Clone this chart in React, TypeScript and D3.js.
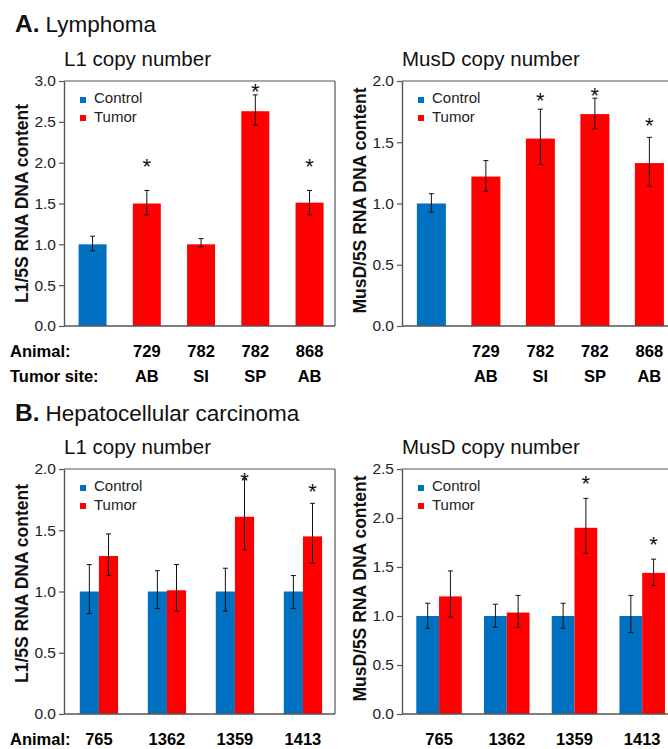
import React, { useEffect, useRef } from "react";
import * as d3 from "d3";

const FONT = "'Liberation Sans', Arial, Helvetica, sans-serif";
const BLUE = "#0070c0";
const RED = "#ff0000";
const AXIS = "#555";

// A. Lymphoma (first bar is the control)
const lymphGroups = ["Control", "Tumor", "Tumor", "Tumor", "Tumor"];
const lymphAnimals = ["", "729", "782", "782", "868"];
const lymphSites = ["", "AB", "SI", "SP", "AB"];

const lymphL1 = [1.0, 1.5, 1.0, 2.63, 1.51];
const lymphL1Lo = [0.92, 1.36, 0.97, 2.46, 1.36];
const lymphL1Hi = [1.1, 1.66, 1.07, 2.83, 1.66];
const lymphL1Star = [null, 2.02, null, 2.93, 2.02];
const lymphL1Ticks = [0, 0.5, 1.0, 1.5, 2.0, 2.5, 3.0];

const lymphMusD = [1.0, 1.22, 1.53, 1.73, 1.33];
const lymphMusDLo = [0.93, 1.1, 1.32, 1.61, 1.14];
const lymphMusDHi = [1.08, 1.35, 1.77, 1.86, 1.54];
const lymphMusDStar = [null, null, 1.88, 1.92, 1.68];
const lymphMusDTicks = [0, 0.5, 1.0, 1.5, 2.0];

// B. Hepatocellular carcinoma
const hccAnimals = ["765", "1362", "1359", "1413"];
const hccSeries = ["Control", "Tumor"];

const hccL1Control = [1.0, 1.0, 1.0, 1.0];
const hccL1ControlLo = [0.82, 0.86, 0.84, 0.86];
const hccL1ControlHi = [1.22, 1.17, 1.19, 1.13];
const hccL1Tumor = [1.29, 1.01, 1.61, 1.45];
const hccL1TumorLo = [1.13, 0.84, 1.34, 1.23];
const hccL1TumorHi = [1.47, 1.22, 1.92, 1.72];
const hccL1Star = [null, null, 1.95, 1.86];
const hccL1Ticks = [0, 0.5, 1.0, 1.5, 2.0];

const hccMusDControl = [1.0, 1.0, 1.0, 1.0];
const hccMusDControlLo = [0.875, 0.885, 0.875, 0.83];
const hccMusDControlHi = [1.13, 1.12, 1.13, 1.21];
const hccMusDTumor = [1.2, 1.035, 1.9, 1.44];
const hccMusDTumorLo = [0.99, 0.885, 1.64, 1.31];
const hccMusDTumorHi = [1.46, 1.21, 2.2, 1.58];
const hccMusDStar = [null, null, 2.4, 1.78];
const hccMusDTicks = [0, 0.5, 1.0, 1.5, 2.0, 2.5];

const PANEL_W = 271;

function YAxis({ scale, x, ticks }) {
  const ref = useRef(null);
  useEffect(() => {
    const g = d3.select(ref.current);
    g.call(
      d3
        .axisLeft(scale)
        .tickValues(ticks)
        .tickFormat(d3.format(".1f"))
        .tickSize(5)
        .tickSizeOuter(0)
        .tickPadding(3)
    );
    g.attr("font-family", FONT).attr("font-size", 15.5);
    g.selectAll("path").attr("stroke", AXIS).attr("stroke-width", 1.4);
    g.selectAll("line").attr("stroke", AXIS).attr("stroke-width", 1.2);
    g.selectAll("text").attr("fill", "#222");
  }, [scale, ticks]);
  return <g ref={ref} transform={`translate(${x},0)`} />;
}

function Frame({ left, top, bottom, title, yLabel, labelDy }) {
  const right = left + PANEL_W;
  return (
    <g>
      <line x1={left} x2={right} y1={top} y2={top} stroke={AXIS} strokeWidth={1.2} />
      <line x1={right} x2={right} y1={top} y2={bottom} stroke={AXIS} strokeWidth={1.2} />
      <line x1={left} x2={right} y1={bottom} y2={bottom} stroke={AXIS} strokeWidth={1.4} />
      <text x={left} y={top - 15} fontSize={20.5} fontFamily={FONT} fill="#111">
        {title}
      </text>
      <text
        transform={`translate(${left - 36},${(top + bottom) / 2 + labelDy}) rotate(-90)`}
        textAnchor="middle"
        fontSize={17.5}
        fontWeight="bold"
        fontFamily={FONT}
        fill="#111"
      >
        {yLabel}
      </text>
      <rect x={left + 16} y={top + 16} width={6} height={6} fill={BLUE} />
      <rect x={left + 16} y={top + 34} width={6} height={6} fill={RED} />
      <text x={left + 30} y={top + 22} fontSize={15} fontFamily={FONT} fill="#222">
        Control
      </text>
      <text x={left + 30} y={top + 41} fontSize={15} fontFamily={FONT} fill="#222">
        Tumor
      </text>
    </g>
  );
}

function ErrorBar({ cx, y, lo, hi }) {
  return (
    <g stroke="#111" strokeWidth={1}>
      <line x1={cx} x2={cx} y1={y(lo)} y2={y(hi)} />
      <line x1={cx - 2.5} x2={cx + 2.5} y1={y(lo)} y2={y(lo)} />
      <line x1={cx - 2.5} x2={cx + 2.5} y1={y(hi)} y2={y(hi)} />
    </g>
  );
}

function Star({ cx, y, v }) {
  if (v == null) return null;
  return (
    <text x={cx} y={y(v) + 12.5} textAnchor="middle" fontSize={22} fontFamily={FONT} fill="#111">
      *
    </text>
  );
}

function LymphPanel(p) {
  const y = d3.scaleLinear().domain([0, p.ticks[p.ticks.length - 1]]).range([p.bottom, p.top]);
  const idx = d3.range(p.values.length).map(String);
  const x = d3
    .scaleBand()
    .domain(idx)
    .range([p.left, p.left + PANEL_W])
    .paddingInner(p.pi)
    .paddingOuter(p.po)
    .align(p.align);
  return (
    <g>
      {p.values.map((v, i) => {
        const x0 = x(String(i));
        const cx = x0 + x.bandwidth() / 2;
        return (
          <g key={i}>
            <rect
              x={x0}
              y={y(v)}
              width={x.bandwidth()}
              height={y(0) - y(v)}
              fill={lymphGroups[i] === "Control" ? BLUE : RED}
            />
            <ErrorBar cx={cx} y={y} lo={p.lo[i]} hi={p.hi[i]} />
            <Star cx={cx} y={y} v={p.stars[i]} />
            <text x={cx} y={357} textAnchor="middle" fontSize={16.5} fontWeight="bold" fontFamily={FONT}>
              {lymphAnimals[i]}
            </text>
            <text x={cx} y={382} textAnchor="middle" fontSize={16.5} fontWeight="bold" fontFamily={FONT}>
              {lymphSites[i]}
            </text>
          </g>
        );
      })}
      <Frame left={p.left} top={p.top} bottom={p.bottom} title={p.title} yLabel={p.yLabel} labelDy={p.labelDy} />
      <YAxis scale={y} x={p.left} ticks={p.ticks} />
      {p.rowTitles && (
        <g fontSize={16.5} fontWeight="bold" fontFamily={FONT}>
          <text x={10} y={357}>Animal:</text>
          <text x={10} y={382}>Tumor site:</text>
        </g>
      )}
    </g>
  );
}

function HccPanel(p) {
  const y = d3.scaleLinear().domain([0, p.ticks[p.ticks.length - 1]]).range([p.bottom, p.top]);
  const x = d3
    .scaleBand()
    .domain(hccAnimals)
    .range([p.left, p.left + PANEL_W])
    .paddingInner(p.pi)
    .paddingOuter(p.po)
    .align(p.align);
  const xs = d3.scaleBand().domain(hccSeries).range([0, x.bandwidth()]);
  const series = [
    { key: "Control", v: p.control, lo: p.controlLo, hi: p.controlHi, color: BLUE },
    { key: "Tumor", v: p.tumor, lo: p.tumorLo, hi: p.tumorHi, color: RED },
  ];
  return (
    <g>
      {hccAnimals.map((a, i) => (
        <g key={a} transform={`translate(${x(a)},0)`}>
          {series.map((s) => (
            <rect
              key={s.key}
              x={xs(s.key)}
              y={y(s.v[i])}
              width={xs.bandwidth()}
              height={y(0) - y(s.v[i])}
              fill={s.color}
            />
          ))}
          {series.map((s) => (
            <ErrorBar key={s.key} cx={xs(s.key) + xs.bandwidth() / 2} y={y} lo={s.lo[i]} hi={s.hi[i]} />
          ))}
          <Star cx={xs("Tumor") + xs.bandwidth() / 2} y={y} v={p.stars[i]} />
          <text
            x={x.bandwidth() / 2}
            y={745}
            textAnchor="middle"
            fontSize={16.5}
            fontWeight="bold"
            fontFamily={FONT}
          >
            {a}
          </text>
        </g>
      ))}
      <Frame left={p.left} top={p.top} bottom={p.bottom} title={p.title} yLabel={p.yLabel} labelDy={p.labelDy} />
      <YAxis scale={y} x={p.left} ticks={p.ticks} />
      {p.rowTitles && (
        <text x={10} y={745} fontSize={16.5} fontWeight="bold" fontFamily={FONT}>
          Animal:
        </text>
      )}
    </g>
  );
}

export default function App() {
  return (
    <svg
      width={668}
      height={749}
      style={{ position: "absolute", left: 0, top: 0, background: "#fff" }}
      fontFamily={FONT}
    >
      <text x={15} y={32} fontFamily={FONT} fill="#111">
        <tspan fontSize={24.5} fontWeight="bold">A.</tspan>
        <tspan fontSize={22.5} dx={6}>Lymphoma</tspan>
      </text>
      <text x={15} y={421} fontFamily={FONT} fill="#111">
        <tspan fontSize={24.5} fontWeight="bold">B.</tspan>
        <tspan fontSize={22.5} dx={6}>Hepatocellular carcinoma</tspan>
      </text>

      <LymphPanel
        left={64}
        top={81}
        bottom={326}
        ticks={lymphL1Ticks}
        title="L1 copy number"
        yLabel="L1/5S RNA DNA content"
        values={lymphL1}
        lo={lymphL1Lo}
        hi={lymphL1Hi}
        stars={lymphL1Star}
        pi={0.484}
        po={0.24}
        align={0.56}
        labelDy={0}
        rowTitles
      />
      <LymphPanel
        left={402}
        top={81}
        bottom={326}
        ticks={lymphMusDTicks}
        title="MusD copy number"
        yLabel="MusD/5S RNA DNA content"
        values={lymphMusD}
        lo={lymphMusDLo}
        hi={lymphMusDHi}
        stars={lymphMusDStar}
        pi={0.468}
        po={0.22}
        align={0.62}
        labelDy={-3}
        rowTitles={false}
      />
      <HccPanel
        left={64}
        top={469}
        bottom={714}
        ticks={hccL1Ticks}
        title="L1 copy number"
        yLabel="L1/5S RNA DNA content"
        control={hccL1Control}
        controlLo={hccL1ControlLo}
        controlHi={hccL1ControlHi}
        tumor={hccL1Tumor}
        tumorLo={hccL1TumorLo}
        tumorHi={hccL1TumorHi}
        stars={hccL1Star}
        pi={0.437}
        po={0.211}
        align={0.55}
        labelDy={-8}
        rowTitles
      />
      <HccPanel
        left={402}
        top={469}
        bottom={714}
        ticks={hccMusDTicks}
        title="MusD copy number"
        yLabel="MusD/5S RNA DNA content"
        control={hccMusDControl}
        controlLo={hccMusDControlLo}
        controlHi={hccMusDControlHi}
        tumor={hccMusDTumor}
        tumorLo={hccMusDTumorLo}
        tumorHi={hccMusDTumorHi}
        stars={hccMusDStar}
        pi={0.328}
        po={0.165}
        align={0.64}
        labelDy={-3}
        rowTitles={false}
      />
    </svg>
  );
}
